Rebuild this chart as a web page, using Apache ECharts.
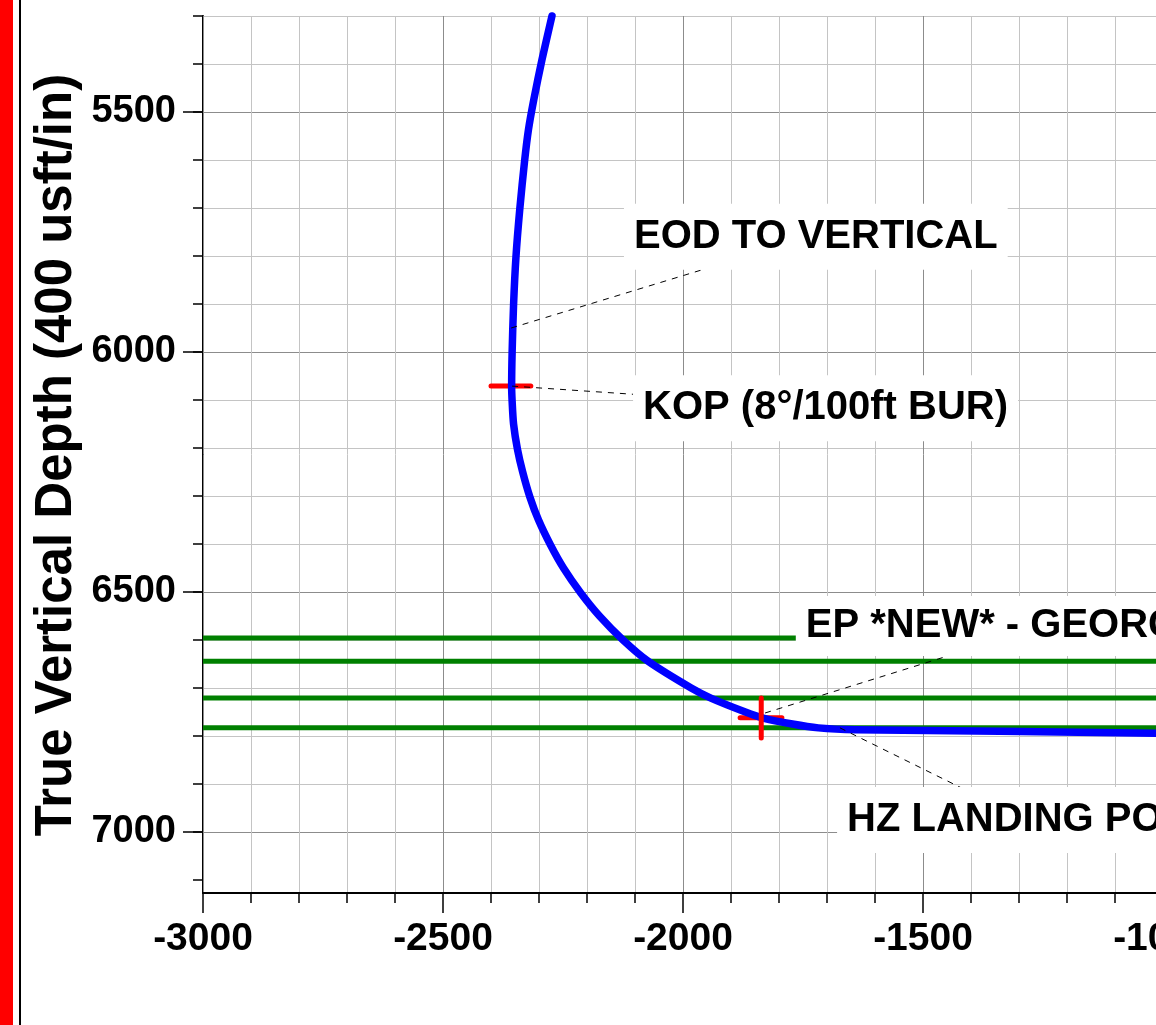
<!DOCTYPE html>
<html><head><meta charset="utf-8">
<script src="https://cdn.jsdelivr.net/npm/echarts@6/dist/echarts.min.js"></script>
<style>html,body{margin:0;padding:0;background:#fff}#c{width:1156px;height:1025px}</style>
</head><body><div id="c"></div>
<script>
// ---- data ----
const wellX   = [-2273,-2294,-2311,-2322,-2330,-2340,-2348,-2353,-2356,-2357,-2356,-2353,-2345,-2334,-2319,-2301,-2276,-2249,-2213,-2174,-2125,-2073,-1983,-1942,-1870,-1835,-1772,-1718,-1641,-1340,-1015,-500];
const wellTVD = [5300,5392,5475,5537,5602,5702,5802,5902,6002,6071,6102,6150,6202,6250,6302,6350,6402,6450,6502,6550,6600,6644,6700,6721,6750,6762,6775,6783,6787,6790,6794,6797];
const formationTops = [6596, 6644, 6721, 6783];
const kopMarkX = [-2400, -2317];
const kopMarkTVD = 6071;
const hzMarkX = -1837;
const hzMarkTVD = [6721, 6804];
const hzTanX = [-1881, -1794];
const hzTanTVD = 6762;
const annoText = ['EOD TO VERTICAL', 'KOP (8°/100ft BUR)', 'EP *NEW* - GEORGETOWN', 'HZ LANDING POINT'];
const annoX = [-2123, -2104, -1765, -1679];
const annoTVD = [5760, 6117, 6571, 6975];
const leaderFromX = [-2358, -2356, -1829, -1673];
const leaderFromTVD = [5950, 6071, 6752, 6783];
const leaderToX = [-1948, -2104, -1454, -1412];
const leaderToTVD = [5825, 6088, 6635, 6912];
const xMin = -3000, xMax = -500, xStep = 500;
const yMin = 5300, yMax = 7127;
const yMajorMin = 5000, yMajorMax = 7500, yMajorStep = 500;
const yMinorTicks = [];
for (let v = 5300; v <= 7100; v += 100) yMinorTicks.push(v);
const yTitle = 'True Vertical Depth (400 usft/in)';

const FONT = '"Liberation Sans", Arial, sans-serif';
const chart = echarts.init(document.getElementById('c'), null, {renderer: 'canvas'});

const series = [];
formationTops.forEach(t => series.push({
  type: 'line', xAxisIndex: 0, yAxisIndex: 0, z: 3, symbol: 'none', silent: true,
  lineStyle: {color: '#008000', width: 5},
  data: [[xMin, t], [xMax, t]]
}));
series.push({
  type: 'line', z: 4, symbol: 'none', silent: true,
  lineStyle: {color: '#ff0000', width: 5, cap: 'round'},
  data: kopMarkX.map(x => [x, kopMarkTVD])
});
series.push({
  type: 'line', z: 4, symbol: 'none', silent: true,
  lineStyle: {color: '#ff0000', width: 5, cap: 'round'},
  data: hzTanX.map(x => [x, hzTanTVD])
});
series.push({
  type: 'line', z: 5, symbol: 'none', silent: true, smooth: 0.25, clip: false,
  lineStyle: {color: '#0000ff', width: 7.5, cap: 'round', join: 'round'},
  data: wellX.map((x, i) => [x, wellTVD[i]])
});
series.push({
  type: 'line', z: 6, symbol: 'none', silent: true,
  lineStyle: {color: '#ff0000', width: 5, cap: 'round'},
  data: hzMarkTVD.map(t => [hzMarkX, t])
});
leaderFromX.forEach((x, i) => series.push({
  type: 'line', z: 7, symbol: 'none', silent: true,
  lineStyle: {color: '#000', width: 1, type: [6, 6]},
  data: [[x, leaderFromTVD[i]], [leaderToX[i], leaderToTVD[i]]]
}));
series.push({
  type: 'scatter', z: 10, symbolSize: 0, silent: true,
  itemStyle: {opacity: 1},
  data: annoText.map((t, i) => {
    const item = {name: t, value: [annoX[i], annoTVD[i]]};
    if (i === 2) item.label = {padding: [12, 10, 8, 10]};
    return item;
  }),
  label: {
    show: true, position: 'right', distance: 0, formatter: '{b}',
    backgroundColor: '#fff', padding: [13, 10, 13, 10], opacity: 1,
    color: '#000', fontSize: 40, fontWeight: 'bold', fontFamily: FONT
  }
});

const tickFont = {color: '#000', fontWeight: 'bold', fontFamily: FONT,
  formatter: v => String(v)};

chart.setOption({
  animation: false,
  backgroundColor: '#fff',
  grid: [
    {left: 203, top: 16, right: -247, bottom: 132, outerBoundsMode: 'none', containLabel: false},
    {left: 203, top: -128, right: -247, bottom: -47, outerBoundsMode: 'none', containLabel: false}
  ],
  xAxis: [
    {
      type: 'value', gridIndex: 0, min: xMin, max: xMax, interval: xStep, position: 'bottom', z: 1,
      axisLine: {show: true, onZero: false, lineStyle: {color: '#000', width: 2}},
      axisTick: {show: true, length: 20, lineStyle: {color: '#000', width: 1.5}},
      minorTick: {show: true, splitNumber: 5, length: 10, lineStyle: {color: '#000', width: 1.5}},
      splitLine: {show: true, lineStyle: {color: '#8c8c8c', width: 1}},
      minorSplitLine: {show: true, lineStyle: {color: '#c4c4c4', width: 1}},
      axisLabel: Object.assign({margin: 27, fontSize: 39}, tickFont)
    },
    {
      type: 'value', gridIndex: 1, min: xMin, max: xMax, interval: xStep, show: false,
      splitLine: {show: false}
    }
  ],
  yAxis: [
    {
      type: 'value', gridIndex: 0, min: yMin, max: yMax, interval: 100, inverse: true, z: 0,
      axisLine: {show: true, onZero: false, lineStyle: {color: '#000', width: 2}},
      axisTick: {show: true, length: 10, customValues: yMinorTicks, lineStyle: {color: '#000', width: 1.5}},
      axisLabel: {show: false},
      splitLine: {show: true, showMaxLine: false, lineStyle: {color: '#c4c4c4', width: 1}}
    },
    {
      type: 'value', gridIndex: 1, min: yMajorMin, max: yMajorMax, interval: yMajorStep, inverse: true, z: 1,
      axisLine: {show: false},
      axisTick: {show: true, length: 20, lineStyle: {color: '#000', width: 1.5}},
      axisLabel: Object.assign({margin: 27, fontSize: 38}, tickFont),
      splitLine: {show: true, lineStyle: {color: '#8c8c8c', width: 1}}
    }
  ],
  graphic: [
    {type: 'rect', left: 0, top: 0, shape: {width: 13, height: 1025}, style: {fill: '#ff0000'}, z: 100},
    {type: 'rect', left: 19, top: 0, shape: {width: 2, height: 1025}, style: {fill: '#000'}, z: 100},
    {type: 'text', x: 57, y: 455, rotation: Math.PI / 2, z: 100,
      style: {text: yTitle, align: 'center', verticalAlign: 'middle', fill: '#000',
        font: 'bold 51px ' + FONT}}
  ],
  series: series
});
</script></body></html>
